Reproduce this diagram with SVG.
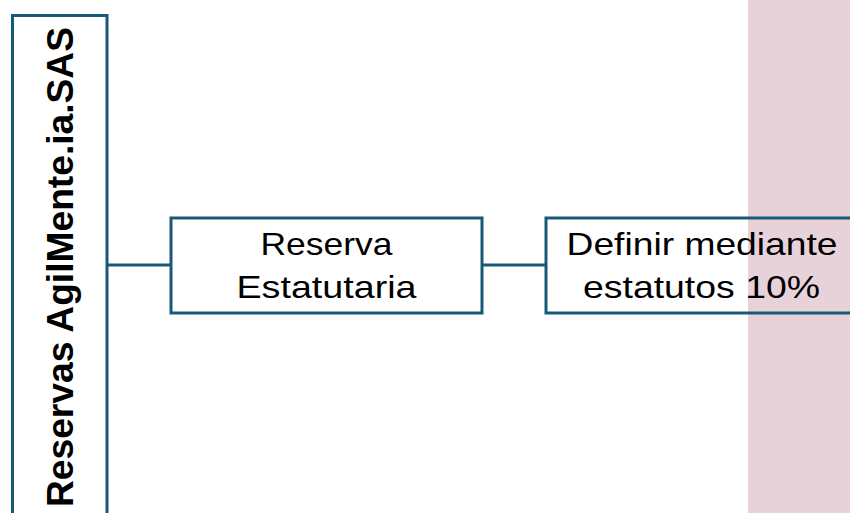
<svg xmlns="http://www.w3.org/2000/svg" width="850" height="513" viewBox="0 0 850 513">
<style>
.box{fill:none;stroke:#175A78;stroke-width:3}
.lbl{font-family:"Liberation Sans",Arial,sans-serif;font-size:32px;fill:#000;text-anchor:middle}
.conn{stroke:#175A78;stroke-width:3;fill:none}
</style>
<rect x="748" y="0" width="102" height="513" fill="#E8D2DA"/>
<g id="connectors">
<line class="conn" x1="107" y1="265" x2="171" y2="265"/>
<line class="conn" x1="482" y1="265" x2="546" y2="265"/>
</g>
<g id="root">
<rect class="box" x="12.5" y="15.5" width="94.5" height="520"/>
<text transform="translate(73,267) rotate(-90)" font-family="'Liberation Sans',Arial,sans-serif" font-weight="bold" font-size="36" text-anchor="middle" textLength="480" lengthAdjust="spacingAndGlyphs">Reservas AgilMente.ia.SAS</text>
</g>
<g id="reserva">
<rect class="box" x="171" y="218" width="311" height="95"/>
<text class="lbl" x="326.5" y="255" textLength="132" lengthAdjust="spacingAndGlyphs">Reserva</text>
<text class="lbl" x="326.5" y="298" textLength="180" lengthAdjust="spacingAndGlyphs">Estatutaria</text>
</g>
<g id="definir">
<rect class="box" x="546" y="218" width="320" height="95"/>
<text class="lbl" x="702" y="255" textLength="271" lengthAdjust="spacingAndGlyphs">Definir mediante</text>
<text class="lbl" x="701.5" y="298" textLength="237" lengthAdjust="spacingAndGlyphs">estatutos 10%</text>
</g>
</svg>
